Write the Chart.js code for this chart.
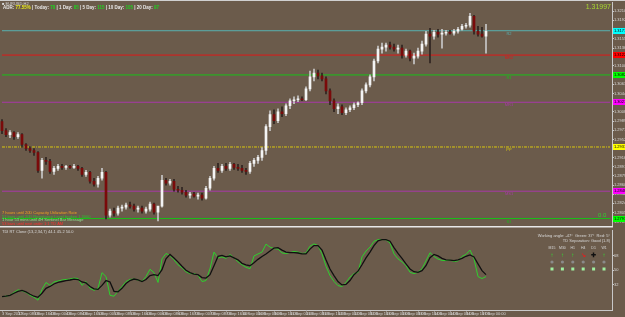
<!DOCTYPE html>
<html><head><meta charset="utf-8">
<script src="https://cdn.jsdelivr.net/npm/chart.js@4.4.1/dist/chart.umd.min.js"></script>
<style>
html,body{margin:0;padding:0;background:#6b5b4b;width:625px;height:317px;overflow:hidden}
#c1{position:absolute;left:0;top:0}
#c2{position:absolute;left:0;top:228px}
</style></head><body>
<canvas id="c1" width="625" height="228"></canvas>
<canvas id="c2" width="625" height="89"></canvas>
<script>
// ---------- DATA ----------
const openP  = [1.2988,1.2970,1.2962,1.2966,1.2958,1.2962,1.2942,1.2934,1.2930,1.2926,1.2890,1.2910,1.2908,1.2888,1.2894,1.2898,1.2896,1.2898,1.2896,1.2898,1.2894,1.2882,1.2886,1.2868,1.2862,1.2874,1.2886,1.2800,1.2808,1.2804,1.2814,1.2816,1.2820,1.2818,1.2812,1.2814,1.2808,1.2812,1.2822,1.2806,1.2818,1.2870,1.2864,1.2868,1.2852,1.2850,1.2846,1.2840,1.2842,1.2838,1.2840,1.2834,1.2854,1.2874,1.2894,1.2890,1.2898,1.2894,1.2902,1.2896,1.2894,1.2890,1.2888,1.2904,1.2910,1.2916,1.2930,1.2978,1.3002,1.2990,1.3008,1.3004,1.3020,1.3030,1.3032,1.3034,1.3032,1.3054,1.3078,1.3086,1.3080,1.3074,1.3050,1.3030,1.3014,1.3018,1.3006,1.3012,1.3016,1.3022,1.3026,1.3050,1.3062,1.3078,1.3110,1.3134,1.3138,1.3142,1.3138,1.3134,1.3136,1.3122,1.3130,1.3116,1.3120,1.3130,1.3144,1.3164,1.3160,1.3168,1.3164,1.3166,1.3168,1.3166,1.3170,1.3174,1.3180,1.3182,1.3200,1.3170,1.3164,1.3160];
const highP  = [1.2992,1.2974,1.2970,1.2968,1.2966,1.2964,1.2944,1.2938,1.2934,1.2928,1.2914,1.2916,1.2912,1.2898,1.2902,1.2902,1.2900,1.2900,1.2902,1.2900,1.2896,1.2890,1.2888,1.2874,1.2878,1.2894,1.2888,1.2812,1.2814,1.2818,1.2820,1.2824,1.2826,1.2822,1.2818,1.2818,1.2816,1.2826,1.2824,1.2810,1.2880,1.2874,1.2872,1.2872,1.2858,1.2856,1.2850,1.2846,1.2846,1.2844,1.2844,1.2858,1.2878,1.2898,1.2904,1.2902,1.2904,1.2906,1.2904,1.2902,1.2900,1.2894,1.2908,1.2914,1.2920,1.2936,1.2982,1.3010,1.3012,1.3014,1.3018,1.3024,1.3034,1.3038,1.3040,1.3038,1.3058,1.3090,1.3094,1.3092,1.3086,1.3078,1.3054,1.3034,1.3024,1.3022,1.3016,1.3020,1.3026,1.3028,1.3054,1.3066,1.3082,1.3114,1.3140,1.3146,1.3146,1.3148,1.3144,1.3142,1.3142,1.3134,1.3132,1.3126,1.3136,1.3150,1.3170,1.3176,1.3172,1.3174,1.3174,1.3172,1.3172,1.3174,1.3178,1.3184,1.3186,1.3206,1.3202,1.3180,1.3178,1.3184];
const lowP   = [1.2964,1.2958,1.2956,1.2952,1.2954,1.2936,1.2930,1.2926,1.2920,1.2886,1.2874,1.2902,1.2884,1.2882,1.2890,1.2892,1.2892,1.2894,1.2894,1.2890,1.2878,1.2878,1.2864,1.2858,1.2856,1.2870,1.2792,1.2796,1.2798,1.2800,1.2808,1.2812,1.2814,1.2808,1.2806,1.2804,1.2804,1.2808,1.2802,1.2788,1.2816,1.2860,1.2860,1.2848,1.2846,1.2842,1.2836,1.2834,1.2836,1.2832,1.2830,1.2832,1.2850,1.2870,1.2886,1.2886,1.2890,1.2890,1.2892,1.2890,1.2886,1.2882,1.2884,1.2898,1.2904,1.2910,1.2922,1.2970,1.2984,1.2986,1.2998,1.3000,1.3014,1.3024,1.3028,1.3030,1.3030,1.3050,1.3070,1.3074,1.3070,1.3044,1.3022,1.3008,1.3004,1.3002,1.3002,1.3008,1.3012,1.3018,1.3022,1.3046,1.3058,1.3070,1.3106,1.3126,1.3130,1.3134,1.3130,1.3126,1.3116,1.3118,1.3110,1.3104,1.3116,1.3124,1.3140,1.3106,1.3154,1.3158,1.3136,1.3162,1.3164,1.3162,1.3166,1.3172,1.3176,1.3178,1.3164,1.3160,1.3158,1.3126];
const closeP = [1.2970,1.2962,1.2966,1.2958,1.2962,1.2942,1.2934,1.2930,1.2926,1.2890,1.2910,1.2908,1.2888,1.2894,1.2898,1.2896,1.2898,1.2896,1.2898,1.2894,1.2882,1.2886,1.2868,1.2862,1.2874,1.2886,1.2800,1.2808,1.2804,1.2814,1.2816,1.2820,1.2818,1.2812,1.2814,1.2808,1.2812,1.2822,1.2806,1.2818,1.2870,1.2864,1.2868,1.2852,1.2850,1.2846,1.2840,1.2842,1.2838,1.2840,1.2834,1.2854,1.2874,1.2894,1.2890,1.2898,1.2894,1.2902,1.2896,1.2894,1.2890,1.2888,1.2904,1.2910,1.2916,1.2930,1.2978,1.3002,1.2990,1.3008,1.3004,1.3020,1.3030,1.3032,1.3034,1.3032,1.3054,1.3078,1.3086,1.3080,1.3074,1.3050,1.3030,1.3014,1.3018,1.3006,1.3012,1.3016,1.3022,1.3026,1.3050,1.3062,1.3078,1.3110,1.3134,1.3138,1.3142,1.3138,1.3134,1.3136,1.3122,1.3130,1.3116,1.3120,1.3130,1.3144,1.3164,1.3160,1.3168,1.3164,1.3166,1.3168,1.3166,1.3170,1.3174,1.3180,1.3182,1.3200,1.3170,1.3164,1.3160,1.3170];

// TDI lines (fast green, slow black)
const tdiFast = [16.7,17.3,18.5,22.2,25.3,24.1,22.2,18.5,16.0,12.3,25.9,34.6,30.9,35.2,36.4,37.7,38.3,38.9,40.1,39.5,30.9,35.8,27.2,24.7,27.2,46.9,42.0,18.5,17.3,23.5,29.6,35.8,38.3,38.9,37.7,35.8,42.0,51.2,46.9,34.6,64.2,71.0,68.5,63.0,56.8,53.1,48.1,45.7,45.7,43.8,35.8,37.0,51.9,72.8,65.4,66.7,64.8,69.8,65.4,60.5,56.8,53.7,51.9,67.9,70.4,72.8,82.7,79.0,77.2,76.5,71.6,71.0,72.2,73.5,72.8,71.0,71.6,80.2,83.1,80.9,70.4,54.9,43.2,35.8,30.6,29.6,34.6,41.4,45.7,47.3,66.7,74.1,79.0,86.4,88.3,88.5,88.3,84.3,70.4,64.2,60.5,55.6,47.3,45.7,47.5,51.9,61.7,72.0,67.3,64.0,62.3,62.1,62.6,61.1,61.7,67.3,69.8,75.3,64.2,42.0,39.5,42.0];
const tdiSlow = [16.7,17.3,18.5,21.0,23.5,24.7,22.8,19.8,17.3,16.0,21.0,27.2,29.6,32.7,34.6,35.8,37.0,37.7,38.9,38.3,35.2,34.0,29.6,26.5,25.9,30.9,37.0,35.2,23.5,22.8,27.2,33.3,37.0,38.9,37.7,35.8,38.3,43.2,44.4,43.2,50.6,64.2,69.8,65.4,60.5,54.9,50.0,46.9,45.1,44.4,40.7,40.1,44.4,55.6,67.3,68.5,66.7,67.9,65.4,63.0,58.6,56.8,55.6,59.3,63.6,67.3,70.4,74.1,77.8,78.4,75.3,72.8,72.0,72.0,71.6,70.4,70.4,76.5,80.9,80.9,75.3,63.0,51.5,43.2,35.8,31.5,32.1,37.0,44.4,48.8,56.8,65.4,72.8,80.9,87.0,88.3,88.3,86.4,78.4,71.0,64.8,58.0,51.5,48.1,47.3,49.4,55.6,65.8,69.8,67.9,64.8,63.0,62.6,62.0,63.0,64.8,67.5,69.1,66.7,58.0,49.4,44.4];

const xTickLabels = ['3 Sep 2012','3 Sep 08:00','3 Sep 16:00','4 Sep 00:00','4 Sep 08:00','4 Sep 16:00','5 Sep 00:00','5 Sep 08:00','5 Sep 16:00','6 Sep 00:00','6 Sep 08:00','6 Sep 16:00','7 Sep 00:00','7 Sep 08:00','7 Sep 16:00','10 Sep 00:00','10 Sep 08:00','10 Sep 16:00','11 Sep 00:00','11 Sep 08:00','11 Sep 16:00','12 Sep 00:00','12 Sep 08:00','12 Sep 16:00','13 Sep 00:00','13 Sep 08:00','13 Sep 16:00','14 Sep 00:00','14 Sep 08:00','14 Sep 16:00','17 Sep 00:00'];
const yTicks = [1.3210,1.3192,1.3173,1.3155,1.3136,1.3118,1.3100,1.3081,1.3063,1.3044,1.3026,1.3008,1.2989,1.2971,1.2952,1.2934,1.2916,1.2897,1.2879,1.2860,1.2842,1.2824,1.2805,1.2787];
const tdiTicks = [68,50,32];

const levelNames  = ['R2','MR2','R1','MR1','PP','MS1','S1'];
const levelValues = [1.3171,1.3122,1.3082,1.3027,1.2937,1.2848,1.2793];
const levelColors = ['#58b0b0','#e01818','#18c018','#a838a8','#d8c810','#a838a8','#18c018'];
const levelBoxes  = ['#00ffff','#ff0000','#00ff00','#ff00ff','#ffff00','#ff00ff','#00ff00'];

const adrStats = [['ADR: ','#e8e8e8'],['77.55%','#e8e820'],[' | Today: ','#e8e8e8'],['78','#20d020'],[' | 1 Day: ','#e8e8e8'],['85','#20d020'],[' | 5 Day: ','#e8e8e8'],['115','#20d020'],[' | 10 Day: ','#e8e8e8'],['105','#20d020'],[' | 20 Day: ','#e8e8e8'],['97','#20d020']];
const infoLines = [['7 hours until 20D Capacity Utilization Rate','#f0a020'],['51 bars until 20D Resistance Level broken 1.3000','#30c030'],['1 hour 53 mins until 4H Sentinel Bar Message','#90e090'],['53 bars until next order 1:1 TD AM','#ff3030']];
const tfNames = ['M15','M30','H1','H4','D1','W1'];
const tfArrows = ['#30e030','#30e030','#30e030','#e02020','#101010','#30e030'];

// ---------- CHART 1 : price ----------
const N = 153;
const cats = Array.from({length:N},(_,i)=>String(i));
const bull = closeP.map((c,i)=>c>=openP[i]);
const FONT = "'Liberation Sans', Arial, sans-serif";

const levelSets = levelValues.map((v,k)=>({
  type:'line', data:[{x:cats[0],y:v},{x:cats[N-1],y:v}],
  borderColor:levelColors[k], borderWidth:1, borderDash:k===4?[3,1,1,1]:[],
  pointRadius:0, order:5, clip:false
}));

const mainDeco = {
  id:'mainDeco',
  afterDraw(chart){
    const {ctx, chartArea:a, scales:{y}} = chart;
    ctx.save();
    levelValues.forEach((v,k)=>{
      const py = Math.round(y.getPixelForValue(v));
      ctx.fillStyle = levelColors[k];
      ctx.font = '4px '+FONT; ctx.textAlign='center'; ctx.textBaseline='middle';
      ctx.fillText(levelNames[k], 509, py+2.5);
      ctx.fillStyle = levelBoxes[k];
      ctx.fillRect(a.right+1, py-3, 12, 6);
      ctx.fillStyle = '#000';
      ctx.textAlign='left';
      ctx.fillText(v.toFixed(5), a.right+2, py);
    });
    ctx.fillStyle='#d0d0d0'; ctx.fillRect(0,0,625,1);
    ctx.font = '4px '+FONT; ctx.textBaseline='middle'; ctx.textAlign='left';
    ctx.fillStyle='#d8d8d8'; ctx.fillText('\u25A0 EURUSD,H2', 2, 3.5);
    let x = 3;
    adrStats.forEach(([t,c])=>{ ctx.fillStyle=c; ctx.font='bold 4.5px '+FONT; ctx.fillText(t,x,7.5); x += ctx.measureText(t).width; });
    ctx.font = '7px '+FONT; ctx.textAlign='right'; ctx.fillStyle='#a8d830';
    ctx.fillText('1.31997', 611, 7);
    ctx.font = '6px '+FONT; ctx.fillStyle='#30d030'; ctx.textAlign='left';
    ctx.fillText('0.0', 598, 215.5);
    ctx.font = '4px '+FONT;
    infoLines.forEach(([t,c],k)=>{ ctx.fillStyle=c; ctx.fillText(t, 2, 213+k*3.6); });
    ctx.fillStyle='#e8e8e8'; ctx.fillRect(0,226,613,1.5);
    ctx.restore();
  }
};

new Chart(document.getElementById('c1'),{
  type:'bar',
  data:{
    labels:cats,
    datasets:[
      ...levelSets,
      {data:highP.map((h,i)=>[lowP[i],h]), backgroundColor:bull.map(b=>b?'#c8c8c8':'#2e2420'), barThickness:1, grouped:false, order:2},
      {data:openP.map((o,i)=>[Math.min(o,closeP[i]),Math.max(o,closeP[i])]), backgroundColor:bull.map(b=>b?'#f4f4f4':'#7a0a0a'), borderWidth:0, barThickness:2, minBarLength:1, grouped:false, order:1}
    ]
  },
  options:{
    responsive:false, animation:false, devicePixelRatio:1,
    layout:{padding:{left:0,right:0,top:1,bottom:3}},
    plugins:{legend:{display:false},tooltip:{enabled:false}},
    scales:{
      x:{type:'category', display:false, offset:true, grid:{display:false}},
      y:{position:'right', min:1.2780, max:1.3228,
        afterBuildTicks:s=>{ s.ticks = yTicks.map(v=>({value:v})); },
        afterFit:s=>{ s.width = 13; },
        grid:{display:true, drawOnChartArea:false, drawTicks:true, tickLength:2, color:'#c8c8c8'},
        border:{display:true, color:'#c8c8c8', width:1},
        ticks:{color:'#d8d8d8', font:{size:4, family:FONT}, padding:0, callback:v=>v.toFixed(5)}
      }
    }
  },
  plugins:[mainDeco]
});

// ---------- CHART 2 : TDI ----------
const tdiDeco = {
  id:'tdiDeco',
  afterDraw(chart){
    const {ctx} = chart;
    ctx.save();
    ctx.font = '4px '+FONT; ctx.textBaseline='middle'; ctx.textAlign='left';
    ctx.fillStyle='#d8d8d8';
    ctx.fillText('TDI RT Clone (13,2,34,7) 44.1 45.2 50.0', 2, 3.5);
    ctx.textAlign='right';
    ctx.fillText('Working angle: -47\u00B0  Green: 37\u00B0  Red: 5\u00B0', 610, 8);
    ctx.fillText('TD Separation: Good (1.8)', 610, 12.5);
    ctx.textAlign='center';
    tfNames.forEach((t,k)=>{
      const cx = 552 + k*10.4;
      ctx.fillStyle='#d8d8d8'; ctx.font='3.5px '+FONT; ctx.fillText(t, cx, 20);
      ctx.fillStyle=tfArrows[k]; ctx.font='bold 6px '+FONT; ctx.fillText(k===4?'\u271A':(k===3?'\u2198':'\u2191'), cx, 27);
      ctx.fillStyle='#8a8a8a'; ctx.beginPath(); ctx.arc(cx,34,1.6,0,Math.PI*2); ctx.fill();
      ctx.fillStyle='#a0f0a0'; ctx.fillRect(cx-1.5,39.5,3,3);
    });
    ctx.restore();
  }
};

new Chart(document.getElementById('c2'),{
  type:'line',
  data:{
    labels:cats,
    datasets:[
      {data:tdiSlow, borderColor:'#101010', borderWidth:1.3, pointRadius:0, tension:0},
      {data:tdiFast, borderColor:'#2ed12e', borderWidth:1, pointRadius:0, tension:0}
    ]
  },
  options:{
    responsive:false, animation:false, devicePixelRatio:1,
    layout:{padding:{left:0,right:0,top:1,bottom:0}},
    plugins:{legend:{display:false},tooltip:{enabled:false}},
    scales:{
      x:{type:'category', offset:true,
        afterFit:s=>{ s.height = 7; },
        grid:{display:true, drawOnChartArea:false, drawTicks:true, tickLength:1.5,
          color:c=> (c.index%4===0 && c.index/4 < xTickLabels.length) ? '#c8c8c8' : 'rgba(0,0,0,0)'},
        border:{display:true, color:'#c8c8c8', width:1},
        ticks:{autoSkip:false, maxRotation:0, minRotation:0, align:'start', padding:0, color:'#d8d8d8', font:{size:4, family:FONT},
          callback:(v,i)=> (i%4===0 && i/4 < xTickLabels.length) ? xTickLabels[i/4] : ''}
      },
      y:{position:'right', min:0, max:100,
        afterBuildTicks:s=>{ s.ticks = tdiTicks.map(v=>({value:v})); },
        afterFit:s=>{ s.width = 13; },
        grid:{display:true, drawOnChartArea:false, tickLength:2, color:'#c8c8c8'},
        border:{display:true, color:'#c8c8c8', width:1},
        ticks:{color:'#d8d8d8', font:{size:4, family:FONT}, padding:0}
      }
    }
  },
  plugins:[tdiDeco]
});
</script>
</body></html>
